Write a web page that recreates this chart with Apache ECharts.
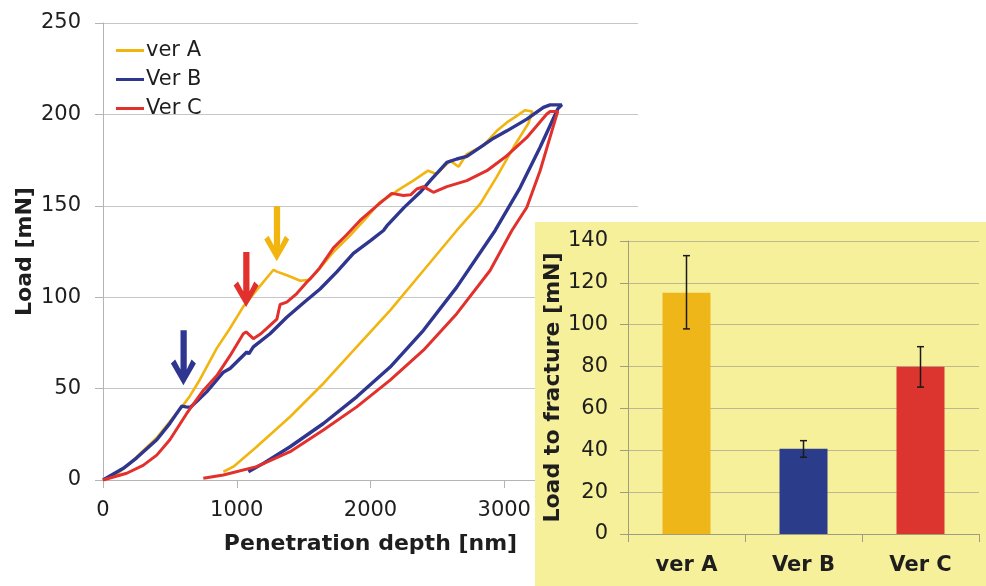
<!DOCTYPE html>
<html>
<head>
<meta charset="utf-8">
<script src="https://cdn.jsdelivr.net/npm/echarts@6/dist/echarts.min.js"></script>
<style>
  html, body { margin: 0; padding: 0; background: #fff; }
  #chart { width: 986px; height: 586px; }
</style>
</head>
<body>
<div id="chart"></div>
<script>
// load-depth curves [depth nm, load mN], loading then unloading
var verA = [[0,0],[100,3],[200,9],[300,16],[400,23],[500,32],[590,40],[650,46],[725,55],[850,72],[950,83],[1050,95],
  [1150,104],[1275,115],[1300,114],[1375,112],[1475,109],[1540,109.5],[1600,114],[1720,124.5],[1850,134],[1970,143.5],
  [2070,152],[2170,156.5],[2200,158.3],[2320,163.8],[2430,169.2],[2495,167.4],[2596,174.7],[2658,171.4],[2720,178.3],
  [2845,183],[2945,191],[3020,195.6],[3094,199.2],[3156,202.3],[3210,201.6],
  [3180,195],[3069,182],[2945,166],[2820,151],[2645,136.5],[2396,114.6],[2147,92.8],[1897,72.8],[1648,52.8],
  [1399,34.6],[1149,18.2],[975,7.3],[900,4.5]];
var verB = [[0,0],[152,6.4],[250,12],[402,22],[500,31],[589,40.4],[620,40],[651,39.7],[700,43],[775,48.2],[900,59],
  [950,61],[1075,70],[1090,69],[1124,72.8],[1249,80],[1374,89],[1500,97],[1623,104.5],[1750,114],[1872,124],[2000,131],
  [2097,136.5],[2122,139],[2250,149],[2371,157.4],[2450,164],[2571,173.7],[2645,175.6],[2720,177],[2820,182],[2920,187],
  [3020,191],[3169,197.4],[3293,203.8],[3343,205.2],[3430,205.2],
  [3400,203],[3268,182],[3119,160],[2932,136.5],[2645,105.5],[2396,81.9],[2147,61.8],[1897,45.5],[1648,30.9],
  [1399,18.2],[1199,9.1],[1087,4.5]];
var verC = [[0,0],[177,3.7],[300,8],[402,13.6],[500,22],[626,36.4],[750,49],[850,57],[950,68],[1049,80],[1070,81],
  [1124,77.3],[1180,80],[1249,84.6],[1300,88],[1324,96],[1374,97.3],[1449,102],[1523,108.2],[1548,110],[1620,116],
  [1723,127],[1820,134],[1922,142],[2047,150],[2159,156.8],[2246,155.6],[2300,156],[2346,159.2],[2396,160.5],
  [2470,157.4],[2571,160.5],[2720,163.8],[2870,169.2],[3020,177.4],[3169,187.4],[3318,200.2],[3343,201.6],[3400,201.6],
  [3393,200],[3268,169.2],[3169,149.2],[3057,136.5],[2894,114.6],[2645,91],[2396,71],[2147,54.6],[1897,40],
  [1648,27.3],[1399,15.5],[1149,7.3],[900,2.7],[750,0.9]];

// fracture onset arrows [depth, load]
var arrowA = [1299, 119.7];
var arrowB = [601, 51.9];
var arrowC = [1070, 94.6];

// inset bar chart
var versions = ['ver A', 'Ver B', 'Ver C'];
var fractureLoad = [115.3, 40.7, 79.9];
var errLow = [98, 36.7, 70.2];
var errHigh = [133, 44.6, 89.5];

var colA = '#f2b50f', colB = '#2e3690', colC = '#e2302c';
var barCols = ['#efb61a', '#2b3d8a', '#dc3530'];
var font = 'DejaVu Sans';
var arrowPath = 'path://M10,0 L16.5,0 L16.5,40 L21.5,30 L26,34 L13,56 L0,34 L4.5,30 L10,40 Z';

function arrowMark(pt, col) {
    return {
        silent: true,
        symbol: arrowPath,
        symbolSize: [25, 55],
        symbolOffset: [0, '-50%'],
        itemStyle: { color: col },
        label: { show: false },
        data: [{ coord: pt }]
    };
}

var errData = versions.map(function (v, i) { return [i, errLow[i], errHigh[i]]; });

var dom = document.getElementById('chart');
var myChart = echarts.init(dom);
var option = {
    animation: false,
    textStyle: { fontFamily: font },
    graphic: [{
        type: 'rect',
        z: 10,
        shape: { x: 535, y: 222, width: 451, height: 364 },
        style: { fill: '#f7f09b' }
    }],
    legend: {
        data: ['ver A', 'Ver B', 'Ver C'],
        orient: 'vertical',
        left: 111,
        top: 35,
        icon: 'rect',
        itemWidth: 28,
        itemHeight: 3,
        itemGap: 8,
        textStyle: { fontFamily: font, fontSize: 21, color: '#1e1e1e', padding: [0, 0, 0, -3] }
    },
    grid: [
        { left: 103, top: 23, width: 535, height: 457 },
        { left: 628, top: 241, width: 351, height: 293 }
    ],
    xAxis: [{
        type: 'value',
        gridIndex: 0,
        min: 0, max: 4000, interval: 1000,
        name: 'Penetration depth [nm]',
        nameLocation: 'middle',
        nameGap: 53,
        nameTextStyle: { fontFamily: font, fontSize: 22, fontWeight: 'bold', color: '#1e1e1e' },
        axisLine: { show: true, lineStyle: { color: '#b4b4b4' } },
        axisTick: { show: true, length: 8, lineStyle: { color: '#b4b4b4' } },
        axisLabel: { fontFamily: font, fontSize: 21, color: '#1e1e1e', margin: 20,
            formatter: function (v) { return String(v); } },
        splitLine: { show: false }
    }, {
        type: 'category',
        gridIndex: 1,
        z: 20,
        data: versions,
        axisLine: { show: true, lineStyle: { color: '#a09c80' } },
        axisTick: { show: true, length: 8, lineStyle: { color: '#a09c80' } },
        axisLabel: { fontFamily: font, fontSize: 21, fontWeight: 'bold', color: '#1e1e1e', margin: 21 }
    }],
    yAxis: [{
        type: 'value',
        gridIndex: 0,
        min: 0, max: 250, interval: 50,
        name: 'Load [mN]',
        nameLocation: 'middle',
        nameGap: 67,
        nameMoveOverlap: false,
        nameTextStyle: { fontFamily: font, fontSize: 22, fontWeight: 'bold', color: '#1e1e1e' },
        axisLine: { show: true, lineStyle: { color: '#b4b4b4' } },
        axisTick: { show: true, length: 8, lineStyle: { color: '#b4b4b4' } },
        axisLabel: { fontFamily: font, fontSize: 21, color: '#1e1e1e', margin: 22 },
        splitLine: { lineStyle: { color: '#c6c6c6', width: 1.2 } }
    }, {
        type: 'value',
        gridIndex: 1,
        z: 20,
        min: 0, max: 140, interval: 20,
        name: 'Load to fracture [mN]',
        nameLocation: 'middle',
        nameGap: 63,
        nameTextStyle: { fontFamily: font, fontSize: 22, fontWeight: 'bold', color: '#1e1e1e' },
        axisLine: { show: true, lineStyle: { color: '#a09c80' } },
        axisTick: { show: true, length: 8, lineStyle: { color: '#a09c80' } },
        axisLabel: { fontFamily: font, fontSize: 21, color: '#1e1e1e', margin: 20 },
        splitLine: { lineStyle: { color: '#bdb88f', width: 1.2 } }
    }],
    series: [{
        name: 'ver A',
        type: 'line',
        xAxisIndex: 0, yAxisIndex: 0,
        data: verA,
        showSymbol: false,
        color: colA,
        lineStyle: { width: 2.6, color: colA },
        markPoint: arrowMark(arrowA, colA)
    }, {
        name: 'Ver B',
        type: 'line',
        xAxisIndex: 0, yAxisIndex: 0,
        data: verB,
        showSymbol: false,
        color: colB,
        lineStyle: { width: 3.4, color: colB },
        markPoint: arrowMark(arrowB, colB)
    }, {
        name: 'Ver C',
        type: 'line',
        xAxisIndex: 0, yAxisIndex: 0,
        data: verC,
        showSymbol: false,
        color: colC,
        lineStyle: { width: 3, color: colC },
        markPoint: arrowMark(arrowC, colC)
    }, {
        name: 'fracture',
        type: 'bar',
        xAxisIndex: 1, yAxisIndex: 1,
        z: 21,
        barWidth: 48,
        data: fractureLoad.map(function (v, i) {
            return { value: v, itemStyle: { color: barCols[i] } };
        })
    }, {
        name: 'error',
        type: 'custom',
        xAxisIndex: 1, yAxisIndex: 1,
        z: 22,
        data: errData,
        encode: { x: 0, y: [1, 2] },
        renderItem: function (params, api) {
            var lo = api.coord([api.value(0), api.value(1)]);
            var hi = api.coord([api.value(0), api.value(2)]);
            var w = 3.5;
            var st = { stroke: '#1a1a1a', lineWidth: 1.5 };
            return {
                type: 'group',
                children: [
                    { type: 'line', shape: { x1: lo[0], y1: lo[1], x2: hi[0], y2: hi[1] }, style: st },
                    { type: 'line', shape: { x1: lo[0] - w, y1: lo[1], x2: lo[0] + w, y2: lo[1] }, style: st },
                    { type: 'line', shape: { x1: hi[0] - w, y1: hi[1], x2: hi[0] + w, y2: hi[1] }, style: st }
                ]
            };
        }
    }]
};
if (option && typeof option === 'object') {
    myChart.setOption(option, true);
}
</script>
</body>
</html>
